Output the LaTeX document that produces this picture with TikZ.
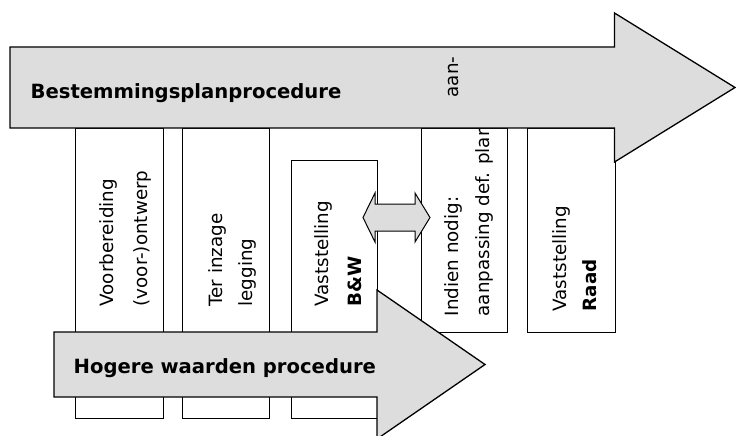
\documentclass[tikz,border=0pt]{standalone}
\usepackage{fontspec}
\setmainfont{DejaVu Sans}
\definecolor{arrowfill}{RGB}{221,221,221}
\begin{document}
\begin{tikzpicture}[x=1pt,y=-1pt, line width=1.3pt, line join=miter,
  colbox/.style={draw=black, fill=white, inner sep=0pt, anchor=north west},
  procarrow/.style={draw=black, fill=arrowfill},
  vtext/.style={rotate=90, anchor=base west, inner sep=0pt, font=\fontsize{18.3}{18.3}\selectfont},
  titletext/.style={anchor=base west, inner sep=0pt, font=\fontsize{19.6}{20}\selectfont\bfseries}]
\clip (0,0) rectangle (736,436);
\fill[white] (0,0) rectangle (736,436);

% columns
\node[colbox, minimum width=88pt, minimum height=290pt] (c1) at (75,128) {};
\node[colbox, minimum width=87pt, minimum height=290pt] (c2) at (182,128) {};
\node[colbox, minimum width=86pt, minimum height=258pt] (c3) at (291,160) {};
\node[colbox, minimum width=86pt, minimum height=204pt] (c4) at (421,128) {};
\node[colbox, minimum width=88pt, minimum height=204pt] (c5) at (527,128) {};

% column texts
\node[vtext] (t1a) at (113,307) {Voorbereiding};
\node[vtext] (t1b) at (147,307) {(voor-)ontwerp};
\node[vtext] (t2a) at (222,307) {Ter inzage};
\node[vtext] (t2b) at (252,307) {legging};
\node[vtext] (t3a) at (328,307) {Vaststelling};
\node[vtext] (t3b) at (361,307) {\bfseries B\&W};
\node[vtext] (t4a) at (458,317) {Indien nodig:};
\node[vtext] (t4b) at (489,317) {aanpassing def. plan};
\node[vtext] (t5a) at (566,312) {Vaststelling};
\node[vtext] (t5b) at (596,312) {\bfseries Raad};

% main arrow
\draw[procarrow] (10,47) -- (614.5,47) -- (614.5,13) -- (735,87.5) -- (614.5,162) -- (614.5,128) -- (10,128) -- cycle;
\node[titletext] (bp) at (30,99) {Bestemmingsplanprocedure};
\node[vtext] (aan) at (458,98) {aan-};

% lower arrow
\draw[procarrow] (54,332) -- (377,332) -- (377,290) -- (485,364.5) -- (377,439) -- (377,397) -- (54,397) -- cycle;
\node[titletext] (hw) at (73,373) {Hogere waarden procedure};

% double arrow
\draw[procarrow, line width=1pt] (363,217.5) -- (375,193) -- (375,204) -- (415,204) -- (415,193) -- (430,217.5) -- (415,242) -- (415,231) -- (375,231) -- (375,242) -- cycle;
\end{tikzpicture}
\end{document}
